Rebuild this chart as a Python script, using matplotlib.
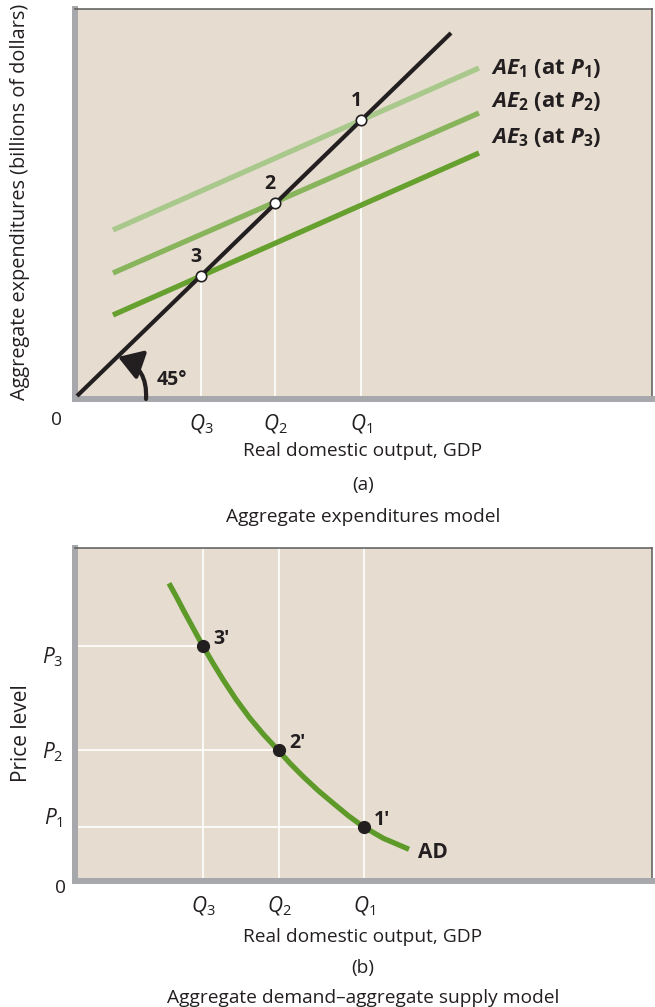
import matplotlib
matplotlib.use("Agg")
import matplotlib.pyplot as plt

plt.rcParams['font.family'] = ['Open Sans', 'DejaVu Sans']
plt.rcParams['mathtext.fontset'] = 'custom'
plt.rcParams['mathtext.rm'] = 'Open Sans'
plt.rcParams['mathtext.it'] = 'Open Sans:italic'
plt.rcParams['mathtext.bf'] = 'Open Sans:bold'
plt.rcParams['mathtext.bfit'] = 'Open Sans:bold:italic'

# ---- panel (a): aggregate expenditures model ----
q_levels = [126, 200, 286]            # Q3, Q2, Q1
q_labels = [r"$Q_3$", r"$Q_2$", r"$Q_1$"]
line45_x = [2, 376]
line45_y = [3, 366]
ae_x = [38, 404]
ae1 = [169, 331]
ae2 = [126, 286]
ae3 = [84, 246]
eq_x = [126, 200, 286]
eq_y = [123, 196, 279]
eq_names = ["3", "2", "1"]

# ---- panel (b): aggregate demand ----
ad_x = [94.0, 101.7, 108.3, 117.7, 127.3, 137.7, 148.3, 161.0, 175.0, 189.0,
        203.0, 215.0, 228.3, 243.3, 258.3, 273.3, 288.3, 308.3, 321.7, 334.0]
ad_y = [297.7, 283.7, 271.0, 253.7, 236.0, 218.3, 201.0, 181.7, 162.7, 146.0,
        131.0, 117.7, 104.3, 90.3, 77.7, 65.3, 54.3, 42.7, 37.0, 31.7]
qb_levels = [128, 204, 289]           # Q3, Q2, Q1
p_levels = [235, 131, 54]             # P3, P2, P1
p_labels = [r"$P_3$", r"$P_2$", r"$P_1$"]
pt_names = ["3\u2032", "2\u2032", "1\u2032"]

bg = '#e6dccf'
spine_grey = '#a7a8ab'
dark = '#231f20'
fs = 13.8

fig = plt.figure(figsize=(6.55, 10.07), dpi=100)
W, H = 655.0, 1007.0


def frame(ax):
    ax.set_facecolor(bg)
    for s in ['left', 'bottom']:
        ax.spines[s].set_color(spine_grey)
        ax.spines[s].set_linewidth(4.3)
    for s in ['top', 'right']:
        ax.spines[s].set_color('#5a5a5a')
        ax.spines[s].set_linewidth(1.1)
    ax.tick_params(length=0, labelsize=14, pad=10)
    ax.set_yticks([])


# top axes
ax1 = fig.add_axes([75 / W, 1 - 399 / H, 577 / W, 390 / H])
frame(ax1)
ax1.set_xlim(0, 577)
ax1.set_ylim(0, 390)

for q, y in zip(eq_x, eq_y):
    ax1.plot([q, q], [0, y], color='white', lw=1.2, zorder=1)

ax1.plot(ae_x, ae1, color='#a9c98c', lw=3.8, solid_capstyle='butt', zorder=2)
ax1.plot(ae_x, ae2, color='#88b45c', lw=3.8, solid_capstyle='butt', zorder=2)
ax1.plot(ae_x, ae3, color='#66a02e', lw=3.8, solid_capstyle='butt', zorder=2)
ax1.plot(line45_x, line45_y, color=dark, lw=3.0, solid_capstyle='butt', zorder=3)
ax1.plot(eq_x, eq_y, 'o', ms=7.5, mfc='white', mec=dark, mew=1.2, zorder=4)

for x, y, n in zip(eq_x, eq_y, eq_names):
    ax1.text(x - 5, y + 19, n, fontsize=14, fontweight='bold', color=dark,
             ha='center', va='center')

ae_labels = [r"$\mathbfit{AE}_\mathbf{1}$ (at $\mathbfit{P}_\mathbf{1}$)",
             r"$\mathbfit{AE}_\mathbf{2}$ (at $\mathbfit{P}_\mathbf{2}$)",
             r"$\mathbfit{AE}_\mathbf{3}$ (at $\mathbfit{P}_\mathbf{3}$)"]
for lab, y in zip(ae_labels, [331, 298, 262]):
    ax1.text(416, y, lab, fontsize=16, fontweight='bold', color=dark,
             ha='left', va='center')

ax1.annotate('', xy=(43, 42), xytext=(71, 0),
             arrowprops=dict(arrowstyle='-|>,head_length=1.1,head_width=0.7',
                             mutation_scale=13,
                             connectionstyle='arc3,rad=0.38', color=dark, lw=3.0,
                             shrinkA=0, shrinkB=0))
ax1.text(97, 19, "45\u00b0", fontsize=14, fontweight='bold', color=dark,
         ha='center', va='center')

ax1.set_xticks(q_levels)
ax1.set_xticklabels(q_labels, fontsize=15, color=dark)
ax1.text(-18, -21, "0", fontsize=fs, color=dark, ha='center', va='center', clip_on=False)
ax1.text(288, -52, "Real domestic output, GDP", fontsize=fs, color=dark,
         ha='center', va='center', clip_on=False)
ax1.text(288, -86, "(a)", fontsize=fs, color=dark, ha='center', va='center', clip_on=False)
ax1.text(288, -118, "Aggregate expenditures model", fontsize=fs, color=dark,
         ha='center', va='center', clip_on=False)
fig.text(20 / W, 1 - 202 / H, "Aggregate expenditures (billions of dollars)",
         rotation=90, fontsize=14.3, color=dark, ha='center', va='center')

# bottom axes
ax2 = fig.add_axes([75 / W, 1 - 881 / H, 577 / W, 333 / H])
frame(ax2)
ax2.set_xlim(0, 577)
ax2.set_ylim(0, 333)

for q in qb_levels:
    ax2.axvline(q, color='white', lw=1.2, zorder=1)
for q, p in zip(qb_levels, p_levels):
    ax2.plot([0, q], [p, p], color='white', lw=1.2, zorder=1)

ax2.plot(ad_x, ad_y, color='#5e9a2a', lw=3.8, solid_capstyle='butt',
         solid_joinstyle='round', zorder=2)
ax2.plot(qb_levels, p_levels, 'o', ms=8.5, color=dark, zorder=3)

for q, p, n in zip(qb_levels, p_levels, pt_names):
    ax2.text(q + 10, p + 7, n, fontsize=14, fontweight='bold', color=dark,
             ha='left', va='center')
ax2.text(343, 28, "AD", fontsize=15, fontweight='bold', color=dark, ha='left', va='center')

for p, lab, off in zip(p_levels, p_labels, [-11, -2, 9]):
    ax2.text(-12, p + off, lab, fontsize=15, color=dark, ha='right', va='center',
             clip_on=False)

ax2.set_xticks(qb_levels)
ax2.set_xticklabels(q_labels, fontsize=15, color=dark)
ax2.text(-14, -7, "0", fontsize=fs, color=dark, ha='center', va='center', clip_on=False)
ax2.text(288, -56, "Real domestic output, GDP", fontsize=fs, color=dark,
         ha='center', va='center', clip_on=False)
ax2.text(288, -87, "(b)", fontsize=fs, color=dark, ha='center', va='center', clip_on=False)
ax2.text(288, -117, "Aggregate demand\u2013aggregate supply model", fontsize=fs,
         color=dark, ha='center', va='center', clip_on=False)
fig.text(22 / W, 1 - 733 / H, "Price level", rotation=90, fontsize=15, color=dark,
         ha='center', va='center')

fig.savefig("out.png", dpi=100, facecolor='white')
